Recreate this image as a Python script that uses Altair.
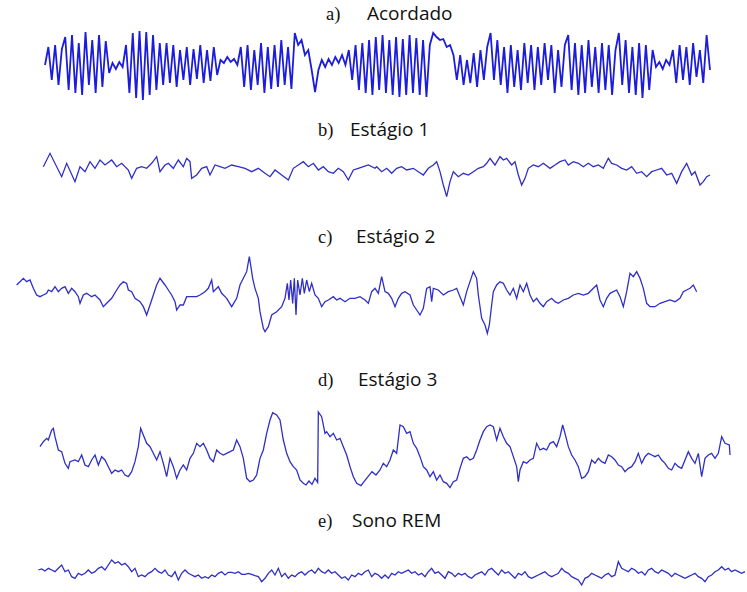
import altair as alt
import pandas as pd
import numpy as np

# Time axis: ticks of 1/3 px of the original sweep; amplitude in the same units (positive = up)
acordado_amp = [
    0, 54, -45, 60, -60, 48,
    84, -75, 90, -84, 66, -90, 99, -60, 75, -84, 90, -66, 72,
    -24, 6, -12, 9, -6,
    60, -84, 96, -99, 102, -105, 99, -90, 90, -75, 66,
    -60, 66, -54, 60, -66, 45, -45, 54, -60, 48, -42, 60, -54, 45, -48, 54, -30,
    15, 6, 24, 9, 18, 0,
    54, -66, 60, -75, 45, -60, 66, -84, 54, -72, 60, -66, 75, -60, 54, -72, 96,
    60, 75, 30, 45, -15, -81,
    -15, 15, -6, 18, 0, 24, 6, 30, 0,
    45, -45, 60, -75, 66, -84, 75, -90, 84, -75, 90, -84,
    75, -90, 84, -96, 78, -90, 90, -84, 81, -90, 75, -96, 60,
    96,
    84, 75, 78, 54, 60, 30,
    -45, 30, -60, 15, -54, 36, -66, 45, -45, 54,
    96,
    -45, 75, -60, 54, -84, 60, -66, 45, -75, 66, -54, 60, -75, 54, -60, 66, -45, 60, -84, 45, -66, 60,
    90,
    -75, 66, -90, 60, -84, 75, -66, 54, -84, 66, -75, 60, -90, 45, 96, -60, 75, -84, 54, -90, 66, -99, 60, -75, 45,
    -6, 9, -12, 15, 0,
    45, -54, 60, -45, 54, -60, 66, -36, 45, -54, 90, -15,
]
acordado_span = [135, 2130]

estagio1_t = [
    130, 150, 185, 200, 225, 240, 255, 270, 285, 300, 315, 335, 350, 365, 385, 395, 410, 425, 440, 455,
    470, 480, 495, 505, 520, 535, 550, 560, 570, 575, 590, 605, 620, 630, 645, 660, 675, 695, 715, 735,
    755, 775, 795, 810, 825, 845, 865, 880, 895, 910, 925, 940, 955, 970, 985, 1000, 1015, 1030, 1045, 1060,
    1075, 1090, 1105, 1125,
    1130, 1145, 1160, 1175, 1190, 1205, 1220, 1240, 1255, 1270, 1285, 1300, 1310, 1320, 1330, 1340, 1350, 1360, 1375, 1390,
    1405, 1420, 1435, 1450, 1460, 1470, 1485, 1500, 1510, 1520, 1535, 1545, 1555, 1565, 1575, 1585, 1600, 1615, 1630, 1650,
    1665, 1680, 1695, 1705, 1720, 1735, 1750, 1765, 1780, 1795, 1810, 1825, 1835, 1850, 1865, 1880, 1895, 1910, 1925, 1940,
    1955, 1970, 1985, 2000, 2015, 2030, 2045, 2060, 2075, 2085, 2100, 2110, 2120, 2130,
]
estagio1_amp = [
    10, 50, -20, 20, -35, 10, -5, 25, 5, 30, 15, 30, 10, 20, 0, -25, 5, 10, 5, 20,
    40, -5, 15, 20, 5, 30, 10, 35, 25, -25, -15, 5, 10, -15, 15, 10, 5, 15, 10, 5,
    -5, 5, -10, -20, 0, -15, -30, 5, 15, 25, 10, 20, 0, 10, -5, -10, 5, -5, -30, 0,
    5, 10, 15, 5,
    10, -5, 5, -10, 5, 10, 0, 5, -5, -15, 5, 15, 25, -5, -45, -80, -35, -5, -20, -10,
    -15, -5, 5, 10, 20, 35, 15, 40, 30, 35, 15, 25, -15, -45, -25, 5, 15, 10, 20, 5,
    15, 25, 30, 15, 25, 20, 10, 20, 10, 15, 5, 35, 20, 15, 5, 0, 10, -10, -5, -20,
    -5, 0, 5, -15, -10, -40, -5, 20, -15, -5, -45, -35, -20, -15,
]

estagio2_t = [
    50, 60, 70, 80, 90, 100, 110, 120, 130, 140, 145, 155, 165, 175, 185, 195, 205, 215, 225, 235,
    240, 250, 260, 275, 285, 300, 310, 320, 335, 350, 360, 370, 380, 385, 395, 405, 420, 430, 440, 450,
    460, 470, 480, 495, 505, 515, 525, 530, 540, 550, 560, 575, 590, 600, 615, 625, 635, 640, 655, 665,
    680, 695, 710, 720, 730, 740, 748, 752, 758, 765, 775, 780, 790, 795, 805, 815, 830, 845, 855, 862,
    867, 872, 878, 883, 888, 893, 900, 907, 913, 920, 928, 935, 945, 955, 965, 975, 985, 1000, 1010, 1020,
    1035, 1050, 1065, 1080,
    1095, 1105, 1115, 1125, 1135, 1145, 1155, 1165, 1175, 1185, 1195, 1205, 1215, 1230, 1240, 1250, 1260, 1270, 1280, 1290,
    1295, 1300, 1315, 1330, 1345, 1360, 1370, 1380, 1390, 1400, 1410, 1420, 1430, 1435, 1445, 1455, 1462, 1468, 1475, 1480,
    1490, 1500, 1510, 1520, 1530, 1540, 1550, 1560, 1570, 1580, 1590, 1600, 1610, 1620, 1630, 1640, 1655, 1665, 1675, 1690,
    1705, 1720, 1735, 1750, 1765, 1780, 1790, 1800, 1810, 1820, 1830, 1840, 1850, 1860, 1870, 1880, 1890, 1900, 1910, 1920,
    1930, 1940, 1950, 1965, 1980, 1995, 2010, 2025, 2040, 2050, 2060, 2070, 2080, 2090,
]
estagio2_amp = [
    21, 31, 41, 31, 36, 11, -9, -14, -9, -4, 6, 1, 16, 1, 11, 16, -4, 11, 1, -14,
    -34, -9, -4, -14, -9, -24, -44, -34, -19, 6, 21, 31, 26, 6, 1, -19, -29, -44, -69, -39,
    -9, 21, 41, 21, 6, -9, -29, -54, -39, -39, -14, -14, -14, -9, 1, 11, 36, 1, 16, -4,
    -19, -44, -19, 21, 41, 61, 106, 81, 41, 11, -19, -59, -109, -119, -104, -69, -59, -44, -19, 26,
    -24, 36, -34, 41, -69, 36, -9, 41, -4, 36, 1, 26, -9, -19, -44, -29, -24, -14, -24, -19,
    -29, -19, -19, -14,
    -24, -34, 1, 11, -4, 46, 1, -4, -19, -44, -19, -4, 1, -9, -39, -54, -69, -49, 11, 16,
    -29, 11, 6, -9, 1, 6, 11, -14, -39, 1, 31, 61, 41, -9, -79, -99, -124, -99, -39, 1,
    21, 31, 26, 6, -9, 11, -19, 21, 1, 26, -9, -29, -19, -34, -44, -29, -19, -29, -34, -24,
    -19, -9, -4, -9, -4, 11, 21, -24, -44, -19, -4, 1, 6, -14, -44, 1, 56, 46, 61, 41,
    11, -34, -44, -44, -34, -29, -24, -29, -19, 1, 6, 11, 21, 1,
]

estagio3_t = [
    120, 130, 140, 145, 150, 155, 160, 165, 175, 185, 195, 205, 210, 225, 235, 245, 255, 265, 275, 285,
    295, 305, 315, 325, 335, 345, 355, 365, 375, 385, 395, 405, 415, 422, 430, 440, 450, 460, 470, 480,
    490, 500, 510, 520, 530, 540, 550, 560, 570, 580, 590, 600, 610, 620, 630, 640, 650, 660, 670, 680,
    690, 700, 710, 720, 730, 740, 750, 760, 770, 780, 790, 800, 810, 818, 830, 840, 850, 860, 870, 880,
    890, 900,
    910, 918, 927, 936, 945, 953, 955,
    965, 975, 980, 990, 1000, 1010, 1020, 1030, 1040, 1050, 1060, 1070, 1083, 1092, 1104, 1116, 1128, 1140,
    1150, 1160, 1170, 1180, 1190, 1200, 1210, 1220, 1230, 1240, 1250, 1260, 1270, 1280, 1290, 1300, 1310, 1320, 1330, 1340,
    1350, 1360, 1370, 1380, 1390, 1400, 1410, 1420, 1430, 1440, 1450, 1460, 1470, 1480, 1490, 1500, 1510, 1520, 1530, 1540,
    1550, 1555, 1560, 1570, 1580, 1590, 1600, 1610, 1620, 1630, 1640, 1650, 1660, 1670, 1680, 1688, 1695, 1705, 1715, 1725,
    1735, 1745, 1755, 1765, 1775, 1785, 1795, 1805, 1815, 1825, 1835, 1845, 1855, 1865, 1875, 1885, 1895, 1905, 1915, 1925,
    1935, 1945, 1955, 1965, 1975, 1985, 1995, 2005, 2015, 2025, 2035, 2045, 2055, 2065, 2075, 2085, 2095, 2105, 2115, 2125,
    2135, 2145, 2155, 2165, 2175, 2188, 2190,
]
estagio3_amp = [
    -5, 10, 20, 15, 30, 45, 50, 25, -15, -20, -55, -70, -50, -45, -50, -30, -60, -65, -45, -30,
    -60, -35, -45, -65, -85, -75, -80, -75, -90, -95, -80, -50, -5, 50, 30, 5, -5, -25, -45, -20,
    -55, -95, -40, -65, -100, -75, -60, -75, -40, -25, 5, -5, 5, -15, -40, -50, -15, -25, -30, -25,
    -20, -15, 15, -5, -40, -100, -110, -105, -90, -40, -15, 35, 75, 97, 90, 75, 15, -25, -50, -65,
    -75, -105,
    -115, -120, -108, -118, -100, -112, 99,
    85, 35, 40, 25, 35, 15, 20, -5, -30, -65, -95, -115, -122, -110, -95, -80, -90, -75,
    -55, -65, -45, -15, -25, 60, 55, 35, 40, 5, -10, -35, -65, -75, -95, -80, -105, -90, -110, -115,
    -128, -110, -105, -70, -40, -35, -45, -40, -15, 15, 40, 55, 60, 55, 15, 50, 25, 5, -5, -35,
    -65, -110, -75, -50, -55, -45, -40, 5, -15, -10, -15, 5, 10, -5, 25, 60, 35, -5, -30, -45,
    -65, -100, -95, -80, -45, -55, -40, -50, -55, -30, -35, -45, -60, -65, -80, -70, -65, -50, -25, -55,
    -35, -25, -30, -35, -30, -45, -55, -70, -75, -55, -65, -70, -45, -20, -40, -55, -25, -95, -40, -30,
    -25, -40, -25, 25, 5, 0, -30,
]

rem_amp = [
    10, 13, 7, 15, 10, 5, 15, 25, 5, 10, -10, -15, 0, -5, 0, 10, 0, 5, 15, 20,
    10, 25, 40, 30, 35, 25, 30, 20, 5, 15, -10, -5, -10, 0, 5, 15, 5, 0, 10, -5,
    -10, 5, -20, 0, 10, 0, -5, -10, -5, -15, -10, -15, -5, -10, 0, 5, -5, 3, 3, 0,
    5, -3, -3, 0, -3, -7, -10, -25, -15, 0, 10, -5, 15, -10, 0, -15, -5, -10, 0, 5,
    -5, 5, 10, 0, 15, 5, 0, 10, 0, 5, -5, -15, -10, -20, -5, -10, 0, -5, 5, 10,
    -10, 0, -5, -15,
    -5, -15, 0, -5, 5, 0, 5, 10, 0, 5, -5, 0, -10, 5, 15, 0, 5, -5, -15, 5,
    0, -10, 0, -5, 0, -10, -15, -5, 0, 5, -5, 10, 15, 5, -5, 10, 0, 5, -5, -15,
    0, -5, 5, -10, -15, -10, -5, 0, 5, -5, -10, -5, 0, 15, 5, 0, -10, -15, -20, -35,
    -15, -10, 0, -5, -10, -15, -5, 0, -10, -5, 35, 15, 10, 5, 15, 10, 0, 5, -5, 10,
    15, 5, 0, 10, 5, 0, -10, 0, -5, -10, -15, -10, -5, 0, -10, -15, -25, -10, -5, 5,
    10, 20, 10, 15, 5, 10, 5, 0, 5,
]
rem_start, rem_step = 115, 10

trace_keys = ["a", "b", "c", "d", "e"]
letters = ["a)", "b)", "c)", "d)", "e)"]
names = ["Acordado", "Estágio 1", "Estágio 2", "Estágio 3", "Sono REM"]

# ---- layout (not data) ----
W, H = 747, 592
U = 3  # data units per pixel
baselines = {"a": 195, "b": 510, "c": 876, "d": 1335, "e": 1720}
letter_pos = [(326, 20), (318, 136), (318, 243), (318, 386), (318, 527)]
name_pos = [(367, 20), (350, 136), (356, 243), (358, 386), (352, 527)]

series = {
    "a": (np.linspace(acordado_span[0], acordado_span[1], len(acordado_amp)), acordado_amp),
    "b": (estagio1_t, estagio1_amp),
    "c": (estagio2_t, estagio2_amp),
    "d": (estagio3_t, estagio3_amp),
    "e": (rem_start + rem_step * np.arange(len(rem_amp)), rem_amp),
}
rows = []
for k, (ts, amps) in series.items():
    n = min(len(ts), len(amps))
    for i in range(n):
        rows.append({"trace": k, "i": i, "t": float(ts[i]), "y": baselines[k] - amps[i]})
df = pd.DataFrame(rows)

xs = alt.Scale(domain=[0, W * U], nice=False, zero=False)
ys = alt.Scale(domain=[H * U, 0], nice=False, zero=False)

base = alt.Chart(df)
line_a = base.transform_filter(alt.datum.trace == "a").mark_line(
    color="#1c1cdc", strokeWidth=1.8, strokeJoin="miter"
).encode(
    x=alt.X("t:Q", scale=xs, axis=None),
    y=alt.Y("y:Q", scale=ys, axis=None),
    order="i:Q",
)
line_rest = base.transform_filter(alt.datum.trace != "a").mark_line(
    color="#2f2fc6", strokeWidth=1.3
).encode(
    x=alt.X("t:Q", scale=xs, axis=None),
    y=alt.Y("y:Q", scale=ys, axis=None),
    detail="trace:N",
    order="i:Q",
)

ldf = pd.DataFrame({"label": letters, "px": [p[0] for p in letter_pos], "py": [p[1] for p in letter_pos]})
ndf = pd.DataFrame({"label": names, "px": [p[0] for p in name_pos], "py": [p[1] for p in name_pos]})

letter_text = alt.Chart(ldf).mark_text(
    font="Liberation Serif", fontSize=18.5, align="left", baseline="alphabetic", color="#111111"
).encode(
    x=alt.X("px:Q", scale=None), y=alt.Y("py:Q", scale=None), text="label:N"
)
name_text = alt.Chart(ndf).mark_text(
    font="Open Sans", fontSize=19, align="left", baseline="alphabetic", color="#111111"
).encode(
    x=alt.X("px:Q", scale=None), y=alt.Y("py:Q", scale=None), text="label:N"
)

chart = alt.layer(line_a, line_rest, letter_text, name_text).properties(
    width=W, height=H, padding=0, autosize=alt.AutoSizeParams(type="none"), background="white"
).configure_view(stroke=None)

chart.save("out.html", embed_options={"renderer": "svg", "actions": False})
